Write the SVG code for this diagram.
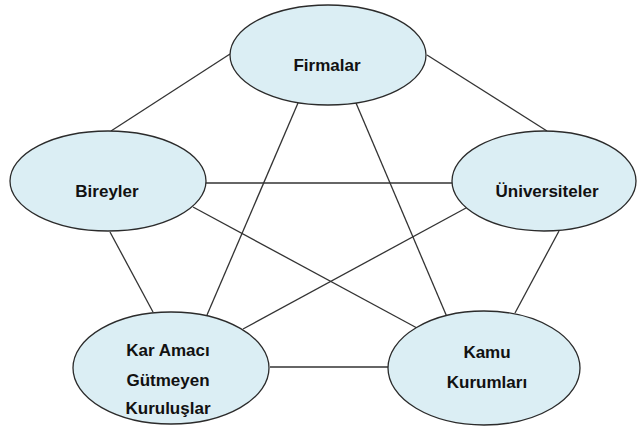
<svg xmlns="http://www.w3.org/2000/svg" width="638" height="428" viewBox="0 0 638 428">
<style>
.edge{stroke:#333;stroke-width:1.3;fill:none}
.node ellipse{fill:#dbeef4;stroke:#2b2b2b;stroke-width:1.3}
.node text{font-family:"Liberation Sans",Arial,sans-serif;font-weight:bold;font-size:17px;fill:#111;text-anchor:middle}
</style>
<rect width="638" height="428" fill="#fff"/>
<g id="connectors">
<line class="edge" x1="230" y1="54" x2="111" y2="131"/>
<line class="edge" x1="427" y1="55" x2="547" y2="131"/>
<line class="edge" x1="298" y1="103" x2="207" y2="315"/>
<line class="edge" x1="356" y1="103" x2="447" y2="317"/>
<line class="edge" x1="206" y1="183" x2="452" y2="183"/>
<line class="edge" x1="193" y1="207" x2="417" y2="328"/>
<line class="edge" x1="466" y1="208" x2="243" y2="329"/>
<line class="edge" x1="110" y1="232" x2="153" y2="312"/>
<line class="edge" x1="559" y1="231" x2="515" y2="313"/>
<line class="edge" x1="270" y1="367" x2="389" y2="367"/>
</g>
<g id="firmalar" class="node">
<ellipse cx="328" cy="55" rx="98" ry="50"/>
<text x="327" y="71">Firmalar</text>
</g>
<g id="bireyler" class="node">
<ellipse cx="108" cy="181" rx="98" ry="50"/>
<text x="107" y="197">Bireyler</text>
</g>
<g id="universiteler" class="node">
<ellipse cx="544" cy="181" rx="92" ry="50"/>
<text x="547" y="197">Üniversiteler</text>
</g>
<g id="kar-amaci" class="node">
<ellipse cx="171" cy="368" rx="98" ry="56"/>
<text x="168" y="356">Kar Amacı</text>
<text x="168" y="386">Gütmeyen</text>
<text x="168" y="414">Kuruluşlar</text>
</g>
<g id="kamu" class="node">
<ellipse cx="484" cy="368" rx="96" ry="57"/>
<text x="487" y="358">Kamu</text>
<text x="487" y="388">Kurumları</text>
</g>
</svg>
